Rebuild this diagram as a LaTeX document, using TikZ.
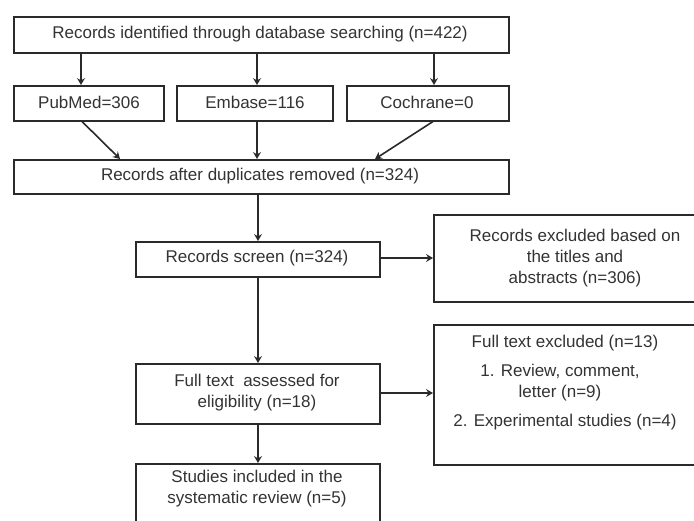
\documentclass[tikz,border=0pt]{standalone}
\usepackage{fontspec}
\setmainfont{Liberation Sans}
\usetikzlibrary{arrows.meta}
\definecolor{linec}{HTML}{2A2A2A}
\definecolor{txtc}{HTML}{333333}
\begin{document}
\begin{tikzpicture}[x=1pt,y=-1pt,
  box/.style={draw=linec,line width=1.5pt,rectangle,inner sep=0pt,anchor=north west},
  txt/.style={text=txtc,font=\fontsize{17}{21}\selectfont,align=center,inner sep=0pt},
  arr/.style={draw=linec,line width=1.6pt,-{Stealth[length=7pt,width=8pt,inset=2.5pt]}}]
\useasboundingbox (0,0) rectangle (694,520);
\fill[white] (0,0) rectangle (694,520);
% boxes
\node[box,minimum width=495pt,minimum height=36pt] (top) at (13,16) {};
\node[txt] (toptxt) at (260,34) {Records identified through database searching (n=422)};
\node[box,minimum width=150pt,minimum height=35pt] (pub) at (13,85) {};
\node[txt] (pubtxt) at (89,102.5) {PubMed=306};
\node[box,minimum width=156pt,minimum height=35pt] (emb) at (176,85) {};
\node[txt] (embtxt) at (255,102.5) {Embase=116};
\node[box,minimum width=162pt,minimum height=35pt] (coc) at (346,85) {};
\node[txt] (coctxt) at (427,102.5) {Cochrane=0};
\node[box,minimum width=495pt,minimum height=34pt] (dup) at (13,159) {};
\node[txt] (duptxt) at (260,176) {Records after duplicates removed (n=324)};
\node[box,minimum width=244pt,minimum height=35pt] (scr) at (135,241) {};
\node[txt] (scrtxt) at (257,258.5) {Records screen (n=324)};
\node[box,minimum width=270pt,minimum height=87pt] (exc) at (433,214) {};
\node[txt] (exctxt) at (575,258) {Records excluded based on\\the titles and\\abstracts (n=306)};
\node[box,minimum width=244pt,minimum height=60pt] (ft) at (135,363) {};
\node[txt] (fttxt) at (257,393) {Full text\ \ assessed for\\eligibility (n=18)};
\node[box,minimum width=270pt,minimum height=140pt] (fte) at (433,324) {};
\node[txt] (ftetxt1) at (565,343) {Full text excluded (n=13)};
\node[txt] (ftetxt2) at (560,382.5) {1. Review, comment,\\letter (n=9)};
\node[txt] (ftetxt3) at (565,422) {2. Experimental studies (n=4)};
\node[box,minimum width=244pt,minimum height=64pt] (inc) at (135,463) {};
\node[txt] (inctxt) at (257,489) {Studies included in the\\systematic review (n=5)};
% connectors
\draw[arr] (top.south -| 81,0) -- (pub.north -| 81,0);
\draw[arr] (top.south -| 257,0) -- (emb.north -| 257,0);
\draw[arr] (top.south -| 434,0) -- (coc.north -| 434,0);
\draw[arr] (pub.south -| 82,0) -- (dup.north -| 120,0);
\draw[arr] (emb.south -| 257,0) -- (dup.north -| 257,0);
\draw[arr] (coc.south -| 433,0) -- (dup.north -| 375,0);
\draw[arr] (dup.south -| 258,0) -- (scr.north -| 258,0);
\draw[arr] (scr.east |- 0,258) -- (exc.west |- 0,258);
\draw[arr] (scr.south -| 258,0) -- (ft.north -| 258,0);
\draw[arr] (ft.east |- 0,393) -- (fte.west |- 0,393);
\draw[arr] (ft.south -| 258,0) -- (inc.north -| 258,0);
\end{tikzpicture}
\end{document}
